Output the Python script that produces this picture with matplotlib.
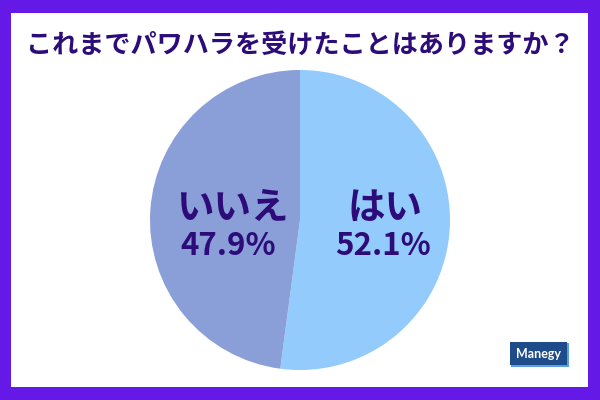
import matplotlib.pyplot as plt
from matplotlib.patches import Rectangle

plt.rcParams['font.family'] = ['Noto Sans CJK JP', 'DejaVu Sans']

# データ
labels = ['はい', 'いいえ']
values = [52.1, 47.9]
colors = ['#94CBFD', '#8A9FD8']
title = 'これまでパワハラを受けたことはありますか？'
text_color = '#2D0C7A'
border_color = '#6419E6'

fig = plt.figure(figsize=(6, 4), dpi=100)
fig.patch.set_facecolor(border_color)

# 白い内側の枠
fig.patches.append(Rectangle((11 / 600, 13 / 400), 577 / 600, 374 / 400,
                             transform=fig.transFigure, facecolor='white',
                             edgecolor='none', zorder=-5))

fig.text(0.5, 1 - 45 / 400, title, ha='center', va='center',
         fontsize=18.8, fontweight='bold', color=text_color)

# 円グラフ (中心 300,220 半径 150)
ax = fig.add_axes([150 / 600, 1 - 370 / 400, 300 / 600, 300 / 400])
ax.set_zorder(1)
ax.patch.set_visible(False)
ax.pie(values, colors=colors, startangle=90, counterclock=False,
       wedgeprops=dict(linewidth=0))
ax.set_aspect('equal')
ax.set_xlim(-1, 1)
ax.set_ylim(-1, 1)

# ラベル
pos = {'はい': (385, 207, 383, 246), 'いいえ': (232, 207, 228, 246)}
for lab, val in zip(labels, values):
    x1, y1, x2, y2 = pos[lab]
    fig.text(x1 / 600, 1 - y1 / 400, lab, ha='center', va='center',
             fontsize=27, fontweight='bold', color=text_color, zorder=5)
    fig.text(x2 / 600, 1 - y2 / 400, f'{val}%', ha='center', va='center',
             fontsize=22.5, fontweight='bold', color=text_color, zorder=5)

# ロゴ
fig.patches.append(Rectangle((511 / 600, 1 - 367 / 400), 58 / 600, 24 / 400,
                             transform=fig.transFigure, facecolor='#5AA0DC',
                             edgecolor='none', zorder=2))
fig.patches.append(Rectangle((510 / 600, 1 - 365 / 400), 57 / 600, 23 / 400,
                             transform=fig.transFigure, facecolor='#1E4C8A',
                             edgecolor='none', zorder=3))
fig.text(538.5 / 600, 1 - 354 / 400, 'Manegy', ha='center', va='center',
         fontsize=9, fontweight='bold', color='white', family='Lato', zorder=4)

plt.savefig('out.png', dpi=100, facecolor=border_color)
